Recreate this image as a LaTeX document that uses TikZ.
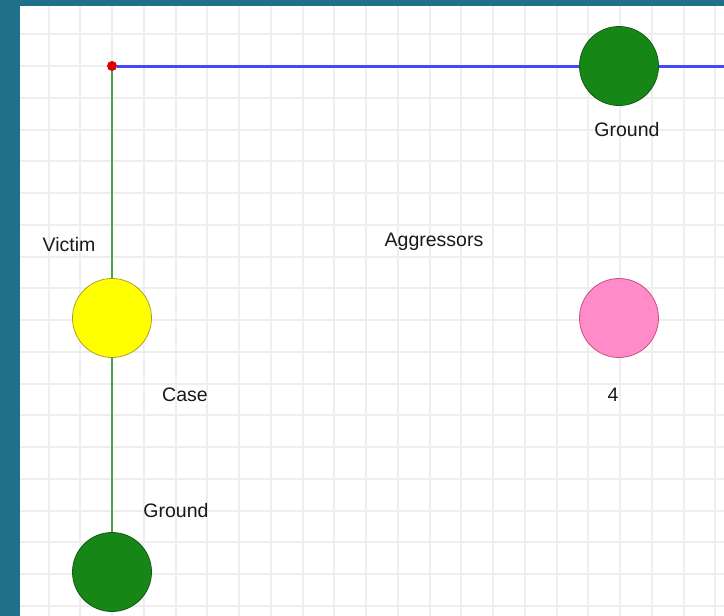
\documentclass[tikz,border=0pt]{standalone}
\usepackage{fontspec}
\setmainfont{Liberation Sans}
\usetikzlibrary{positioning}
\definecolor{frame}{RGB}{33,112,137}
\definecolor{gridline}{RGB}{238,238,238}
\definecolor{groundfill}{RGB}{22,134,22}
\definecolor{groundline}{RGB}{18,90,18}
\definecolor{victimfill}{RGB}{255,255,0}
\definecolor{victimline}{RGB}{170,160,40}
\definecolor{aggrfill}{RGB}{255,140,200}
\definecolor{aggrline}{RGB}{200,80,130}
\definecolor{wireblue}{RGB}{70,70,250}
\definecolor{wiregreen}{RGB}{70,165,70}
\definecolor{textgray}{RGB}{25,25,25}

\begin{document}
\begin{tikzpicture}[x=1pt, y=-1pt, font=\fontsize{19.5}{23}\selectfont, ball/.style={circle, draw, line width=0.8pt, minimum size=79pt, inner sep=0pt}, lbl/.style={text=textgray, inner sep=0pt, anchor=base}]
\useasboundingbox (0,0) rectangle (724,616);
\fill[frame] (0,0) rectangle (724,616);
\fill[white] (20,6) rectangle (724,616);
% grid
\foreach \k in {-2,...,19}
  \draw[gridline, line width=2pt] ({round(112+31.75*\k)},6) -- ({round(112+31.75*\k)},616);
\foreach \k in {-1,...,17}
  \draw[gridline, line width=2pt] (20,{round(66+31.75*\k)}) -- (724,{round(66+31.75*\k)});
% nodes
\node[circle, fill=red!90!black, minimum size=10pt, inner sep=0pt] (corner) at (112,66) {};
\node[ball, fill=groundfill, draw=groundline] (gndtop) at (619,66) {};
\node[ball, fill=victimfill, draw=victimline] (victim) at (112,318) {};
\node[ball, fill=aggrfill, draw=aggrline] (aggr) at (619,318) {};
\node[ball, fill=groundfill, draw=groundline] (gndbot) at (112,572) {};
\coordinate (edge) at (724,66);
% wires
\draw[wireblue, line width=3pt] (corner) -- (gndtop);
\draw[wireblue, line width=3pt] (gndtop) -- (edge);
\draw[wiregreen, line width=2.5pt] (corner) -- (victim);
\draw[wiregreen, line width=2.5pt] (victim) -- (gndbot);
% labels
\node[lbl] (gndtoptxt) at (627,136) {Ground};
\node[lbl] (victimtxt) at (69,251) {Victim};
\node[lbl] (aggrtxt) at (434,246) {Aggressors};
\node[lbl] (casetxt) at (185,401) {Case};
\node[lbl] (aggrnum) at (613,401) {4};
\node[lbl] (gndbottxt) at (176,517) {Ground};
\end{tikzpicture}
\end{document}
